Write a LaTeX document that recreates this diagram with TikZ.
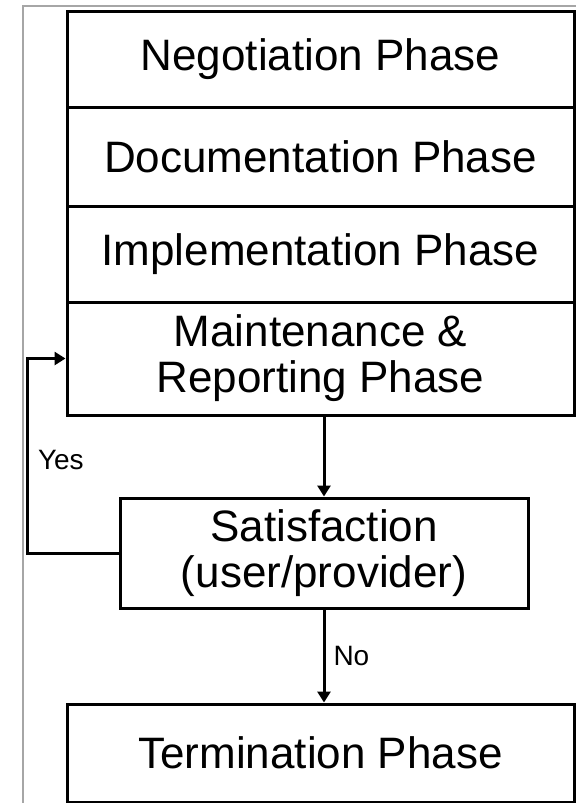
\documentclass[tikz,border=0pt]{standalone}
\usepackage{fontspec}
\setmainfont{Liberation Sans}
\usetikzlibrary{arrows.meta}

\tikzset{
  phase/.style={draw, line width=3pt, inner sep=0pt, align=center,
    minimum width=507pt, font=\fontsize{44}{46}\selectfont},
  answer/.style={inner sep=0pt, font=\fontsize{28}{30}\selectfont},
}

\begin{document}
\begin{tikzpicture}[x=1pt, y=-1pt, >={Triangle[length=11pt,width=13pt]}]
\useasboundingbox (0,0) rectangle (576,803);

% frame
\draw[line width=2pt, gray!70] (23,803) -- (23,6) -- (576,6);

\node[phase, minimum height=96pt] (nego) at (320.5,59) {Negotiation Phase};
\node[phase, minimum height=99pt] (docu) at (320.5,156.5) {Documentation Phase};
\node[phase, minimum height=96pt] (impl) at (320.5,254) {Implementation Phase};
\node[phase, minimum height=113pt] (maint) at (320.5,358.5) {Maintenance \&\\Reporting Phase};

\node[phase, minimum width=408pt, minimum height=110pt] (satis) at (324,553) {Satisfaction\\(user/provider)};

\node[phase, minimum height=98pt] (term) at (320.5,753) {Termination Phase};

\draw[->, line width=3pt] (satis.north |- maint.south) -- (satis.north);
\draw[->, line width=3pt] (satis.south) -- (satis.south |- term.north)
  node[midway, right=8pt, answer] {No};
\draw[->, line width=3pt] (satis.west) -- ++(-91,0) |- (maint.west)
  node[pos=0.24, right=9pt, answer] {Yes};
\end{tikzpicture}
\end{document}
